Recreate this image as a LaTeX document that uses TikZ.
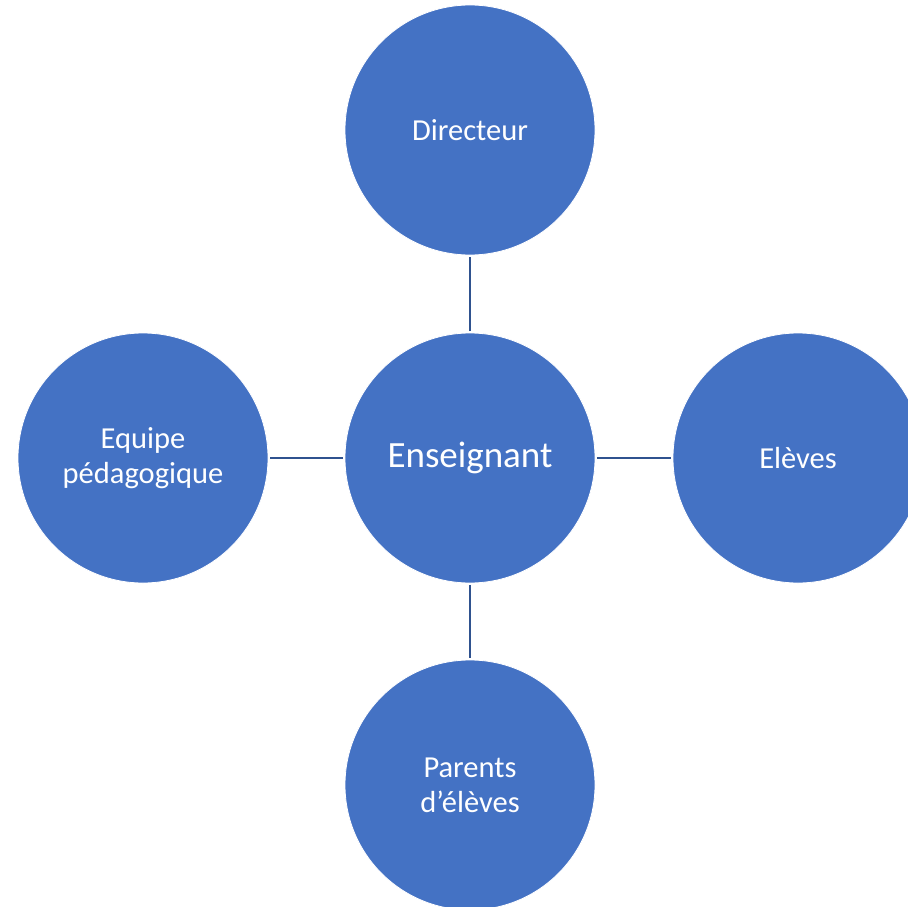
\documentclass[tikz,border=0pt]{standalone}
\usepackage{fontspec}
\setmainfont{Carlito}
\definecolor{nodeblue}{HTML}{4472C4}
\definecolor{linkblue}{HTML}{2F528F}
\tikzset{
  bubble/.style={circle, fill=nodeblue, draw=white, line width=0.8pt, minimum size=250pt, inner sep=0pt, text=white, align=center, font=\fontsize{30.5}{35}\selectfont},
  hub/.style={bubble, font=\fontsize{37}{44}\selectfont},
  link/.style={draw=linkblue, line width=2pt, shorten <=1.5pt, shorten >=1.5pt}
}
\begin{document}
\begin{tikzpicture}[x=1pt,y=-1pt]
\useasboundingbox (0,0) rectangle (908,907);
\begin{scope}
\clip (0,0) rectangle (908,907);
\node[hub] (c) at (470,458) {Enseignant};
\node[bubble] (t) at (470,130) {Directeur};
\node[bubble] (l) at (143,458) {Equipe\\pédagogique};
\node[bubble] (r) at (798,458) {Elèves};
\node[bubble] (b) at (470,785) {Parents\\d’élèves};
\draw[link] (c) -- (t);
\draw[link] (c) -- (l);
\draw[link] (c) -- (r);
\draw[link] (c) -- (b);
\end{scope}
\end{tikzpicture}
\end{document}
